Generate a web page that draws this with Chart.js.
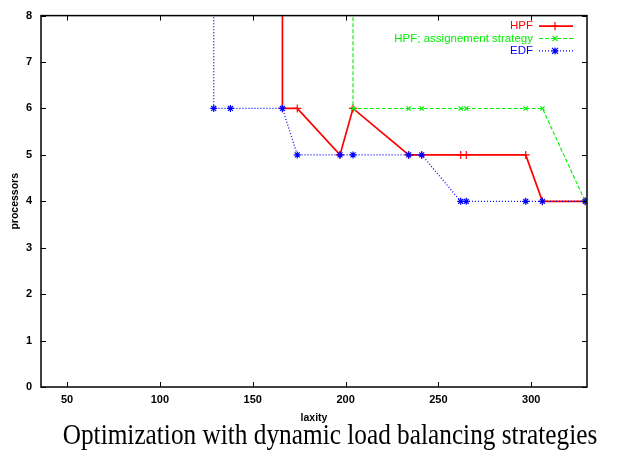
<!DOCTYPE html>
<html>
<head>
<meta charset="utf-8">
<script src="https://cdn.jsdelivr.net/npm/chart.js@4.4.1/dist/chart.umd.min.js"></script>
<style>
  html, body { margin: 0; padding: 0; background: #ffffff; }
  #wrap { position: relative; width: 629px; height: 451px; }
</style>
</head>
<body>
<div id="wrap"><canvas id="c" width="629" height="451"></canvas></div>
<script>
// ---- data ----
const seriesLabels = ['HPF', 'HPF; assignement strategy', 'EDF'];
const laxityHPF    = [166, 166, 174, 197, 204, 234, 241, 262, 265, 297, 306, 329];
const procHPF      = [9,   6,   6,   5,   6,   5,   5,   5,   5,   5,   4,   4];
const laxityAssign = [204, 204, 234, 241, 262, 265, 297, 306, 329];
const procAssign   = [9,   6,   6,   6,   6,   6,   6,   6,   4];
const laxityEDF    = [129, 129, 138, 166, 174, 197, 204, 234, 241, 262, 265, 297, 306, 329];
const procEDF      = [9,   6,   6,   6,   5,   5,   5,   5,   5,   4,   4,   4,   4,   4];
const xTickValues  = [50, 100, 150, 200, 250, 300];
const yTickValues  = [0, 1, 2, 3, 4, 5, 6, 7, 8];
const xAxisTitle = 'laxity';
const yAxisTitle = 'processors';
const captionText = 'Optimization with dynamic load balancing strategies';

function pts(xs, ys) { return xs.map((x, i) => ({ x: x, y: ys[i] })); }

const styles = [
  { color: '#ff0000', dash: [],     width: 1.7, marker: 'cross',    r: 4 },
  { color: '#00ee00', dash: [4, 2], width: 1.1, marker: 'crossRot', r: 3 },
  { color: '#0000ff', dash: [1, 2], width: 1.3, marker: 'star',     r: 3.5 }
];

function drawMarker(ctx, type, x, y, r) {
  ctx.beginPath();
  if (type === 'cross' || type === 'star') {
    ctx.moveTo(x - r, y); ctx.lineTo(x + r, y);
    ctx.moveTo(x, y - r); ctx.lineTo(x, y + r);
  }
  if (type === 'crossRot' || type === 'star') {
    const d = r * 0.85;
    ctx.moveTo(x - d, y - d); ctx.lineTo(x + d, y + d);
    ctx.moveTo(x - d, y + d); ctx.lineTo(x + d, y - d);
  }
  ctx.stroke();
}

const framePlugin = {
  id: 'frameTicks',
  afterDraw(chart) {
    const ctx = chart.ctx, a = chart.chartArea;
    const xs = chart.scales.x, ys = chart.scales.y;
    ctx.save();
    ctx.strokeStyle = '#000';
    ctx.lineWidth = 1;
    const L = 5;
    ctx.beginPath();
    xTickValues.forEach(v => {
      const px = Math.round(xs.getPixelForValue(v)) + 0.5;
      ctx.moveTo(px, a.bottom); ctx.lineTo(px, a.bottom - L);
      ctx.moveTo(px, a.top); ctx.lineTo(px, a.top + L);
    });
    yTickValues.forEach(v => {
      const py = Math.round(ys.getPixelForValue(v)) + 0.5;
      ctx.moveTo(a.left, py); ctx.lineTo(a.left + L, py);
      ctx.moveTo(a.right, py); ctx.lineTo(a.right - L, py);
    });
    ctx.stroke();
    ctx.lineWidth = 1.5;
    ctx.strokeRect(a.left, a.top, a.right - a.left, a.bottom - a.top);

    // legend (top right, text right-aligned, sample on the right)
    ctx.font = '11.5px "Liberation Sans", Arial, sans-serif';
    ctx.textAlign = 'right';
    ctx.textBaseline = 'middle';
    chart.data.datasets.forEach((ds, i) => {
      const st = styles[i];
      const y = a.top + 10.5 + i * 12.4;
      ctx.fillStyle = st.color;
      ctx.fillText(ds.label, a.right - 54, y);
      ctx.strokeStyle = st.color;
      ctx.lineWidth = st.width;
      ctx.setLineDash(st.dash);
      ctx.beginPath();
      ctx.moveTo(a.right - 48, y); ctx.lineTo(a.right - 14, y);
      ctx.stroke();
      ctx.setLineDash([]);
      ctx.lineWidth = 1.2;
      drawMarker(ctx, st.marker, a.right - 32, y, st.r);
    });

    // caption below the chart
    ctx.fillStyle = '#000';
    ctx.textAlign = 'center';
    ctx.textBaseline = 'alphabetic';
    ctx.font = '25.3px "Liberation Serif", "Times New Roman", serif';
    ctx.save();
    ctx.translate(330, 444);
    ctx.scale(1, 1.15);
    ctx.fillText(captionText, 0, 0);
    ctx.restore();
    ctx.restore();
  }
};

const datasets = [
  { label: seriesLabels[0], data: pts(laxityHPF, procHPF), order: 3 },
  { label: seriesLabels[1], data: pts(laxityAssign, procAssign), order: 2 },
  { label: seriesLabels[2], data: pts(laxityEDF, procEDF), order: 1 }
].map((d, i) => Object.assign(d, {
  borderColor: styles[i].color,
  backgroundColor: styles[i].color,
  borderWidth: styles[i].width,
  borderDash: styles[i].dash,
  pointStyle: styles[i].marker,
  pointRadius: styles[i].r,
  pointBorderColor: styles[i].color,
  pointBorderWidth: 1.2,
  pointHoverRadius: styles[i].r,
  fill: false,
  tension: 0
}));

const tickFont = { family: '"Liberation Sans", Arial, sans-serif', size: 11, weight: 'bold' };
const titleFont = { family: '"Liberation Sans", Arial, sans-serif', size: 10.5, weight: 'bold' };

new Chart(document.getElementById('c'), {
  type: 'line',
  data: { datasets: datasets },
  options: {
    responsive: false,
    animation: false,
    devicePixelRatio: 1,
    layout: { padding: { top: 14, right: 42, left: 0, bottom: 27 } },
    plugins: {
      legend: { display: false },
      tooltip: { enabled: false },
      title: { display: false }
    },
    scales: {
      x: {
        type: 'linear',
        min: 36,
        max: 330,
        grid: { display: false, drawTicks: false },
        border: { display: false },
        ticks: {
          stepSize: 50,
          includeBounds: false,
          padding: 6,
          color: '#000',
          font: tickFont,
          maxRotation: 0
        },
        title: { display: true, text: xAxisTitle, color: '#000', font: titleFont, padding: { top: 0, bottom: 0 } },
        afterFit(s) { s.height = 37; }
      },
      y: {
        min: 0,
        max: 8,
        grid: { display: false, drawTicks: false },
        border: { display: false },
        ticks: { stepSize: 1, padding: 9, color: '#000', font: tickFont },
        title: { display: true, text: yAxisTitle, color: '#000', font: titleFont, padding: { top: 9, bottom: 0 } },
        afterFit(s) { s.width = 41; }
      }
    }
  },
  plugins: [framePlugin]
});
</script>
</body>
</html>
